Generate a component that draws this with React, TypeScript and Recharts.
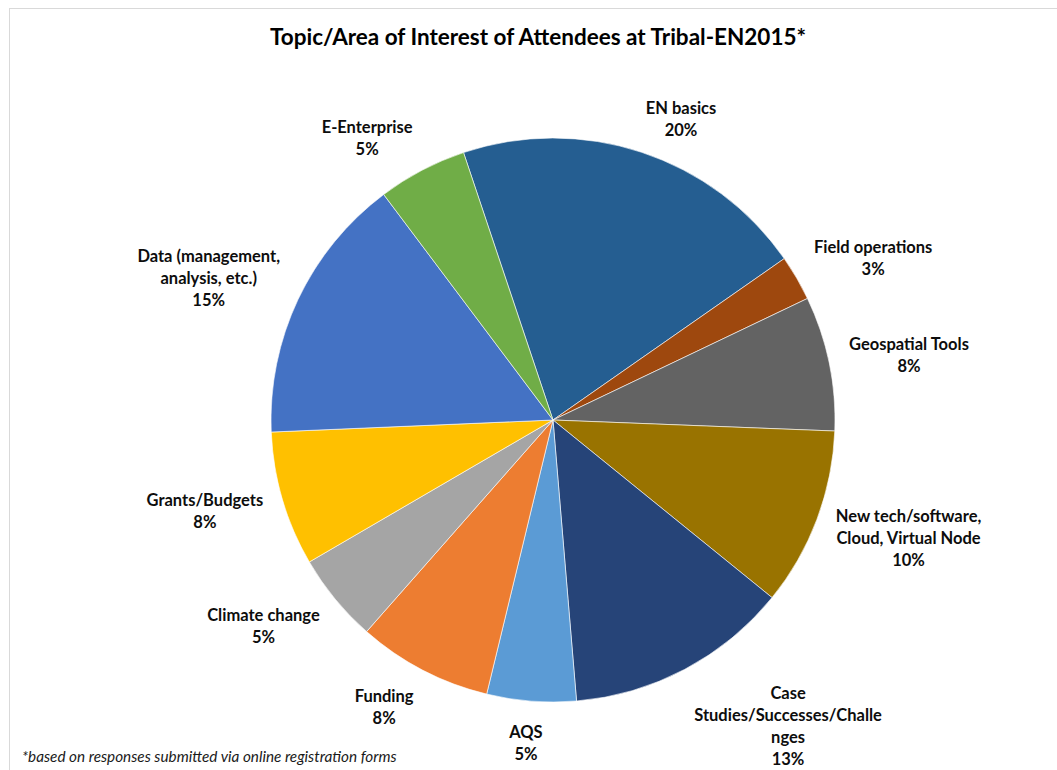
import { PieChart, Pie, Cell } from 'recharts';

const topics = [
  'EN basics',
  'Field operations',
  'Geospatial Tools',
  'New tech/software, Cloud, Virtual Node',
  'Case Studies/Successes/Challenges',
  'AQS',
  'Funding',
  'Climate change',
  'Grants/Budgets',
  'Data (management, analysis, etc.)',
  'E-Enterprise',
];

// share of attendees per topic (%)
const shares = [20.4, 2.6, 7.7, 10.2, 12.8, 5.1, 7.7, 5.1, 7.7, 15.4, 5.1];

// how the label text wraps in the original
const labelLines = [
  ['EN basics'],
  ['Field operations'],
  ['Geospatial Tools'],
  ['New tech/software,', 'Cloud, Virtual Node'],
  ['Case', 'Studies/Successes/Challe', 'nges'],
  ['AQS'],
  ['Funding'],
  ['Climate change'],
  ['Grants/Budgets'],
  ['Data (management,', 'analysis, etc.)'],
  ['E-Enterprise'],
];

const sliceColors = [
  '#255E91', '#9E480E', '#636363', '#997300', '#264478', '#5B9BD5',
  '#ED7D31', '#A5A5A5', '#FFC000', '#4472C4', '#70AD47',
];

const data = topics.map((name, i) => ({ name, value: shares[i] }));

const FONT = 'Lato, "Open Sans", sans-serif';
const LABEL_SIZE = 16.5;
const LINE = 22;
const GAP = 20;

let ctx: CanvasRenderingContext2D | null = null;
const textWidth = (s: string) => {
  if (!ctx) ctx = document.createElement('canvas').getContext('2d');
  if (!ctx) return s.length * 8;
  ctx.font = `bold ${LABEL_SIZE}px Lato`;
  return ctx.measureText(s).width;
};

const clamp = (v: number) => Math.max(-1, Math.min(1, v));

const renderLabel = (props: any) => {
  const { cx, cy, midAngle, outerRadius, percent, index } = props;
  const rad = (midAngle * Math.PI) / 180;
  const dx = Math.cos(rad);
  const dy = -Math.sin(rad);
  const lines = [...labelLines[index], `${Math.round(percent * 100)}%`];
  const w = Math.max(...lines.map(textWidth));
  const h = lines.length * LINE;
  const px = cx + (outerRadius + GAP) * dx;
  const py = cy + (outerRadius + GAP) * dy;
  const bx = px + (w / 2) * clamp(dx * 3);
  // labels above the pie sit a little closer to it
  const by = py + (h / 2) * dy * (dy < 0 ? 1 - 0.35 * dy * dy : 1);
  return (
    <text
      textAnchor="middle"
      fill="#0d0d0d"
      fontFamily={FONT}
      fontWeight="bold"
      fontSize={LABEL_SIZE}
    >
      {lines.map((l, i) => (
        <tspan key={i} x={bx} y={by - h / 2 + LINE * (i + 0.5)} dy="0.36em">
          {l}
        </tspan>
      ))}
    </text>
  );
};

export default function App() {
  return (
    <div
      style={{
        position: 'absolute',
        left: 0,
        top: 0,
        width: 1057,
        height: 770,
        overflow: 'hidden',
        background: '#fff',
        fontFamily: FONT,
      }}
    >
      <div
        style={{
          position: 'absolute',
          left: 9,
          top: 8,
          width: 1100,
          height: 800,
          border: '1px solid #d9d9d9',
        }}
      />
      <div
        style={{
          position: 'absolute',
          left: 0,
          width: 1076,
          top: 23,
          lineHeight: '28px',
          textAlign: 'center',
          fontWeight: 'bold',
          fontSize: 22.5,
          color: '#000',
        }}
      >
        Topic/Area of Interest of Attendees at Tribal-EN2015*
      </div>
      <div style={{ position: 'absolute', left: 0, top: 0 }}>
        <PieChart width={1057} height={770} margin={{ top: 0, right: 0, bottom: 0, left: 0 }}>
          <Pie
            data={data}
            dataKey="value"
            nameKey="name"
            cx={553}
            cy={420}
            outerRadius={282}
            startAngle={108.5}
            endAngle={-251.5}
            stroke="#ffffff"
            strokeWidth={0.6}
            label={renderLabel}
            labelLine={false}
            isAnimationActive={false}
          >
            {data.map((d, i) => (
              <Cell key={d.name} fill={sliceColors[i]} />
            ))}
          </Pie>
        </PieChart>
      </div>
      <div
        style={{
          position: 'absolute',
          left: 22,
          top: 747,
          fontStyle: 'italic',
          fontSize: 15.3,
          color: '#1a1a1a',
        }}
      >
        *based on responses submitted via online registration forms
      </div>
    </div>
  );
}
